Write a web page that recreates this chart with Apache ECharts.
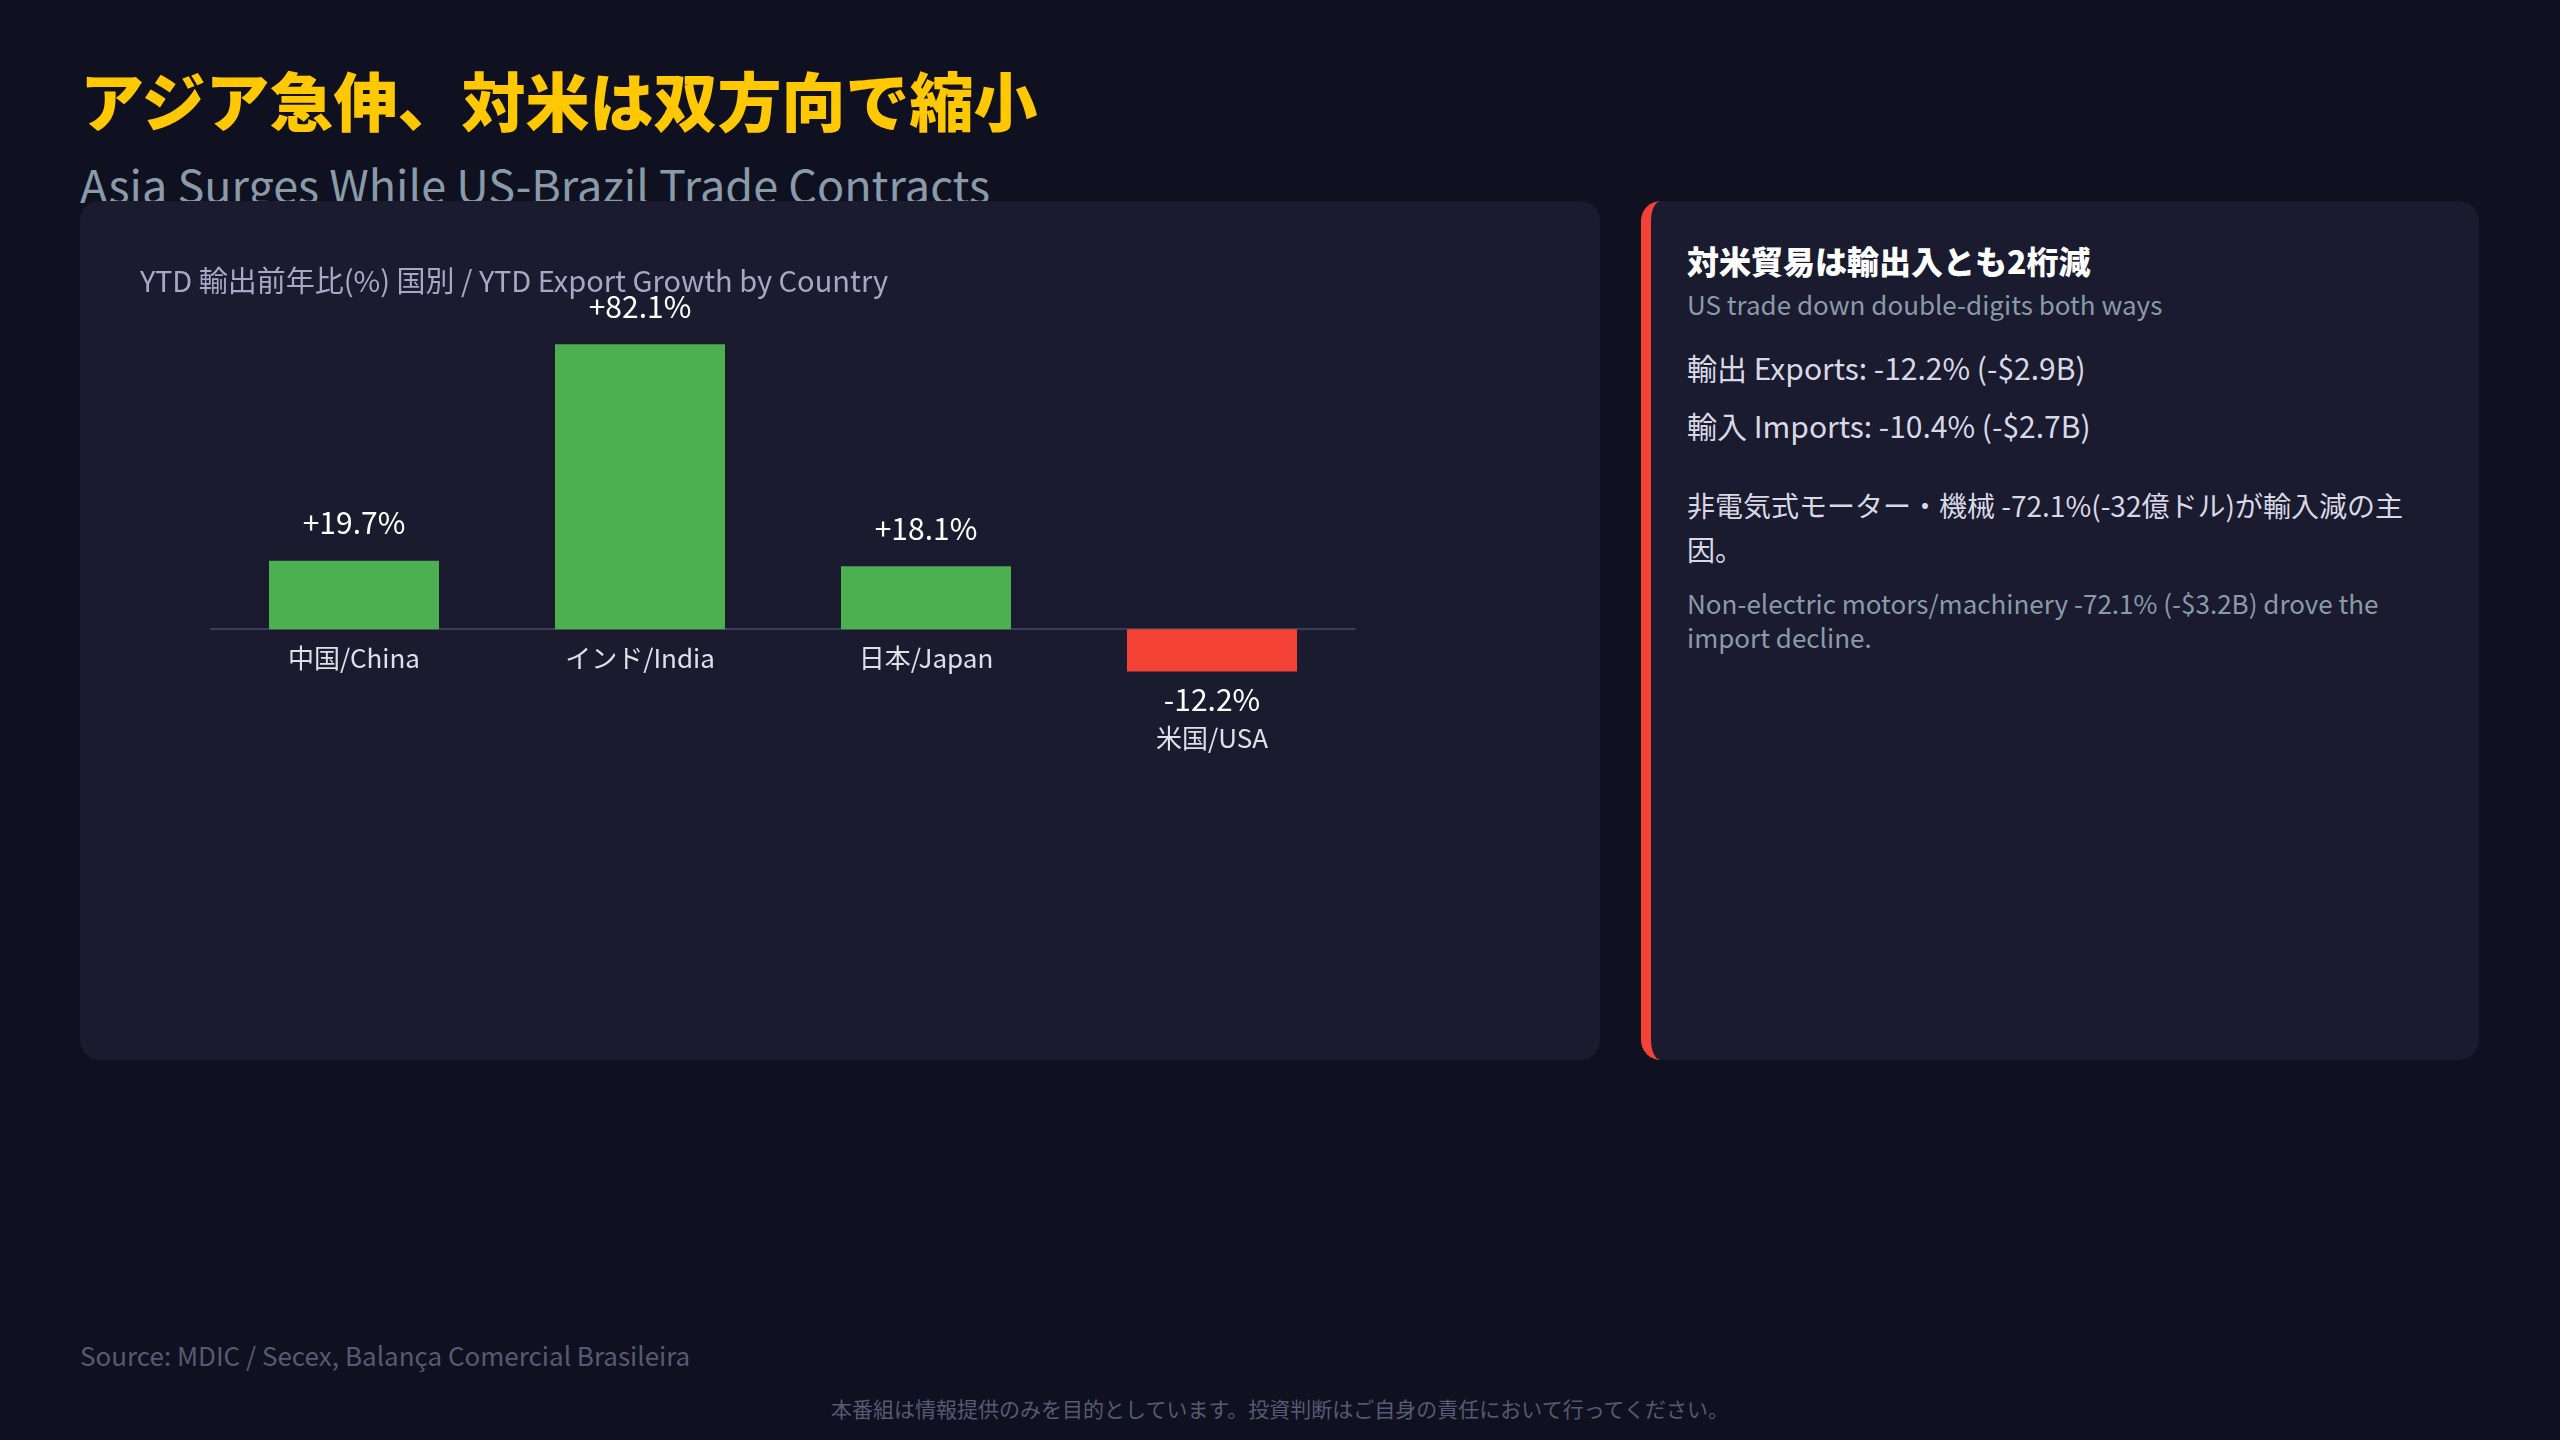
<!DOCTYPE html>
<html><head><meta charset="utf-8">
<script src="https://cdn.jsdelivr.net/npm/echarts@6/dist/echarts.min.js"></script>
<style>
html,body{margin:0;padding:0;background:#0f1020;width:2560px;height:1440px;overflow:hidden;font-family:"Noto Sans CJK JP","Noto Sans",sans-serif;}
.abs{position:absolute;white-space:nowrap;line-height:1;}
#lp{position:absolute;left:80px;top:201px;width:1520px;height:859px;background:#1a1b2e;border-radius:20px;}
#rp{position:absolute;left:1641px;top:201px;width:838px;height:859px;background:#1a1b2e;border-radius:20px;border-left:10px solid #f44336;box-sizing:border-box;}
#chart{position:absolute;left:80px;top:201px;width:1520px;height:859px;}
.rt{position:absolute;left:36px;white-space:nowrap;line-height:1;}
</style></head><body>
<div class="abs" style="left:80px;top:66px;font-size:64px;font-weight:900;color:#ffc800">アジア急伸、対米は双方向で縮小</div>
<div class="abs" style="left:80px;top:161px;font-size:45px;color:#8a9aa8">Asia Surges While US-Brazil Trade Contracts</div>
<div id="lp"></div>
<div id="rp">
 <div class="rt" style="top:43px;font-size:32px;font-weight:900;color:#ffffff">対米貿易は輸出入とも2桁減</div>
 <div class="rt" style="top:90px;font-size:26px;color:#8a9aa8">US trade down double-digits both ways</div>
 <div class="rt" style="top:151px;font-size:30px;color:#d8d8e6">輸出 Exports: -12.2% (-$2.9B)</div>
 <div class="rt" style="top:209px;font-size:30px;color:#d8d8e6">輸入 Imports: -10.4% (-$2.7B)</div>
 <div class="rt" style="top:290px;font-size:28px;color:#d8d8e6">非電気式モーター・機械 -72.1%(-32億ドル)が輸入減の主</div>
 <div class="rt" style="top:334px;font-size:28px;color:#d8d8e6">因。</div>
 <div class="rt" style="top:389px;font-size:26px;color:#8a9aa8">Non-electric motors/machinery -72.1% (-$3.2B) drove the</div>
 <div class="rt" style="top:423px;font-size:26px;color:#8a9aa8">import decline.</div>
</div>
<div id="chart"></div>
<div class="abs" style="left:80px;top:1342px;font-size:26px;color:#565b72">Source: MDIC / Secex, Balança Comercial Brasileira</div>
<div class="abs" style="left:0;width:2560px;text-align:center;top:1398px;font-size:21px;color:#565b72">本番組は情報提供のみを目的としています。投資判断はご自身の責任において行ってください。</div>
<script>
const categories = ['中国/China','インド/India','日本/Japan','米国/USA'];
const growth = [19.7, 82.1, 18.1, -12.2];
const chart = echarts.init(document.getElementById('chart'));
const F = '"Noto Sans CJK JP","Noto Sans",sans-serif';
chart.setOption({
  backgroundColor:'transparent',
  animation:false,
  title:{text:'YTD 輸出前年比(%) 国別 / YTD Export Growth by Country',left:55,top:60,
    textStyle:{color:'#a6a8c6',fontSize:29,fontWeight:'normal',fontFamily:F}},
  grid:{left:131,top:81,width:1144,height:486},
  xAxis:{type:'category',data:categories,
    axisLine:{onZero:true,lineStyle:{color:'#3a3c58',width:2}},axisTick:{show:false},
    axisLabel:{color:'#e0e0ea',fontSize:26,fontFamily:F,margin:-123,
      formatter:(v,i)=>growth[i]<0?'':v}},
  yAxis:{type:'value',min:-40,max:100,show:false,splitLine:{show:false}},
  series:[{type:'bar',barWidth:170,
    data:growth.map((v,i)=>({value:v,itemStyle:{color:v<0?'#f44336':'#4caf50'},
      label:{show:true,position:v<0?'bottom':'top',distance:v<0?8:18,
        formatter:v<0?(v.toFixed(1)+'%\n{c|'+categories[i]+'}'):('+'+v.toFixed(1)+'%'),
        color:'#ffffff',fontSize:30,fontFamily:F,lineHeight:40,
        rich:{c:{color:'#e0e0ea',fontSize:26,fontFamily:F,lineHeight:38}}}}))
  }]
});
</script>
</body></html>
